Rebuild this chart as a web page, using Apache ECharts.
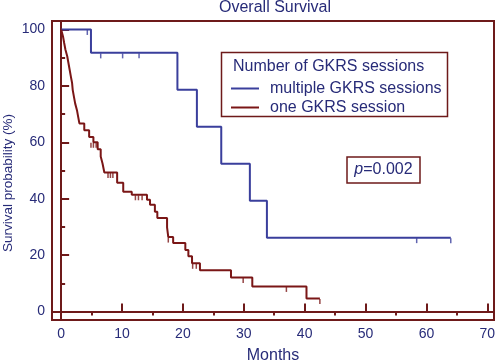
<!DOCTYPE html>
<html>
<head>
<meta charset="utf-8">
<script src="https://cdn.jsdelivr.net/npm/echarts@6/dist/echarts.min.js"></script>
<style>
  html, body { margin: 0; padding: 0; background: #fff; }
  #chart { width: 499px; height: 362px; }
</style>
</head>
<body>
<div id="chart"></div>
<script>
// Kaplan-Meier curves (months, survival %)
var multiTimes = [0, 4.9, 19.1, 22.3, 26.3, 31.0, 33.8, 64.0];
var multiValues = [100, 91.7, 78.6, 65.5, 52.4, 39.3, 26.2, 26.2];
var multiCensorTimes = [4.3, 6.5, 10.1, 12.8, 58.4, 64.0];
var multiCensorValues = [100, 91.7, 91.7, 91.7, 26.2, 26.2];

var oneTimes = [0, 0.3, 0.5, 0.7, 1.0, 1.2, 1.4, 1.6, 1.8, 1.9, 2.1, 2.3, 2.6, 2.8, 3.0,
  3.8, 4.6, 5.3, 6.0, 6.5, 6.8, 7.1, 9.2, 10.2, 11.6, 14.1, 14.6, 15.4, 15.8,
  17.4, 17.6, 18.4, 20.4, 20.9, 21.5, 22.8, 27.9, 31.4, 40.3, 42.5];
var oneValues = [100, 97.6, 95.2, 92.9, 90.5, 88.1, 85.7, 83.3, 81.0, 78.6, 76.2, 73.8, 71.4, 69.0, 66.7,
  64.3, 61.9, 60.0, 57.5, 55.0, 52.5, 49.3, 45.7, 42.5, 41.4, 39.6, 37.9, 35.4, 33.2,
  29.8, 26.4, 24.3, 21.8, 19.6, 17.1, 14.6, 12.1, 8.9, 4.6, 4.6];
var oneCensorTimes = [4.9, 5.3, 5.75, 7.7, 8.1, 8.5, 12.2, 12.7, 13.3, 17.6, 21.6, 22.2, 29.9, 37.0, 42.5];
var oneCensorValues = [60.0, 60.0, 60.0, 49.3, 49.3, 49.3, 41.4, 41.4, 41.4, 26.4, 17.1, 17.1, 12.1, 8.9, 4.6];

var xMajorTicks = [0, 10, 20, 30, 40, 50, 60, 70];
var xMinorTicks = [5, 15, 25, 35, 45, 55, 65];
var yMajorTicks = [0, 20, 40, 60, 80, 100];
var yMinorTicks = [10, 30, 50, 70, 90];

var seriesNames = ['multiple GKRS sessions', 'one GKRS session'];

var frameColor = '#6e1a1a';
var textColor = '#272b78';
var blue = '#3a3f9c';
var red = '#7a1616';
var font = 'Liberation Sans';

function pairs(xs, ys) {
  var out = [];
  for (var i = 0; i < xs.length; i++) {
    out.push([xs[i], ys[i]]);
  }
  return out;
}

var chart = echarts.init(document.getElementById('chart'));

var option = {
  animation: false,
  backgroundColor: '#fff',
  textStyle: { fontFamily: font },
  title: {
    text: 'Overall Survival',
    left: 219,
    top: 0,
    padding: 0,
    textStyle: { color: textColor, fontSize: 16, fontWeight: 'normal', fontFamily: font }
  },
  grid: {
    left: 52, right: 5, top: 21, bottom: 42,
    outerBoundsMode: 'none',
    containLabel: false,
    show: true,
    borderColor: frameColor,
    borderWidth: 2
  },
  legend: {
    data: seriesNames,
    orient: 'vertical',
    left: 231,
    top: 79,
    padding: 0,
    z: 10,
    itemWidth: 28,
    itemHeight: 2,
    itemGap: 0,
    icon: 'rect',
    selectedMode: false,
    textStyle: { color: textColor, fontSize: 16, lineHeight: 19, fontFamily: font, padding: [0, 0, 0, 6] }
  },
  xAxis: [{
    type: 'value',
    min: -1.5,
    max: 71.1,
    name: 'Months',
    nameLocation: 'middle',
    nameGap: 28,
    nameTextStyle: { color: textColor, fontSize: 16, fontFamily: font },
    axisLine: { lineStyle: { color: frameColor, width: 2 } },
    axisTick: { inside: true, length: 8, customValues: xMajorTicks, lineStyle: { color: frameColor, width: 2 } },
    axisLabel: { customValues: xMajorTicks, margin: 7, color: textColor, fontSize: 14, fontFamily: font },
    splitLine: { show: false }
  }, {
    type: 'value',
    min: -1.5,
    max: 71.1,
    axisLine: { show: false },
    axisTick: { inside: true, length: 4, customValues: xMinorTicks, lineStyle: { color: frameColor, width: 2 } },
    axisLabel: { show: false },
    splitLine: { show: false }
  }],
  yAxis: [{
    type: 'value',
    min: -3,
    max: 103,
    name: 'Survival probability (%)',
    nameLocation: 'middle',
    nameGap: 37,
    nameMoveOverlap: false,
    nameRotate: 90,
    nameTextStyle: { color: textColor, fontSize: 13.5, fontFamily: font, padding: [0, 25, 0, 0] },
    axisLine: { show: true, lineStyle: { color: frameColor, width: 2 } },
    axisTick: { show: true, inside: true, length: 8, customValues: yMajorTicks, lineStyle: { color: frameColor, width: 2 } },
    axisLabel: { customValues: yMajorTicks, margin: 7, color: textColor, fontSize: 14, fontFamily: font },
    splitLine: { show: false }
  }, {
    type: 'value',
    position: 'left',
    min: -3,
    max: 103,
    axisLine: { show: false },
    axisTick: { show: true, inside: true, length: 4, customValues: yMinorTicks, lineStyle: { color: frameColor, width: 2 } },
    axisLabel: { show: false },
    splitLine: { show: false }
  }],
  series: [{
    name: seriesNames[0],
    type: 'line',
    step: 'end',
    symbol: 'none',
    color: blue,
    lineStyle: { color: blue, width: 2 },
    data: pairs(multiTimes, multiValues)
  }, {
    name: seriesNames[1],
    type: 'line',
    step: 'end',
    symbol: 'none',
    color: red,
    lineStyle: { color: red, width: 2 },
    data: pairs(oneTimes, oneValues)
  }, {
    name: 'multiple censored',
    type: 'scatter',
    symbol: 'rect',
    symbolSize: [1.5, 5],
    symbolOffset: [0, 3],
    itemStyle: { color: blue },
    data: pairs(multiCensorTimes, multiCensorValues)
  }, {
    name: 'one censored',
    type: 'scatter',
    symbol: 'rect',
    symbolSize: [1.5, 5],
    symbolOffset: [0, 3],
    itemStyle: { color: red },
    data: pairs(oneCensorTimes, oneCensorValues)
  }],
  graphic: [{
    type: 'rect',
    shape: { x: 221.5, y: 52.5, width: 226, height: 64 },
    style: { fill: '#fff', stroke: frameColor, lineWidth: 1.5 },
    z: 5
  }, {
    type: 'text',
    x: 233,
    y: 67,
    style: { text: 'Number of GKRS sessions', fill: textColor, font: '16px "Liberation Sans"', textVerticalAlign: 'middle' },
    z: 6
  }, {
    type: 'rect',
    shape: { x: 347, y: 157, width: 73, height: 26 },
    style: { fill: '#fff', stroke: frameColor, lineWidth: 1.5 },
    z: 5
  }, {
    type: 'text',
    x: 383.5,
    y: 170,
    style: {
      text: '{i|p}=0.002',
      rich: { i: { fontStyle: 'italic', fontSize: 16, fill: textColor, fontFamily: font } },
      fill: textColor,
      font: '16px "Liberation Sans"',
      textAlign: 'center',
      textVerticalAlign: 'middle'
    },
    z: 6
  }]
};

chart.setOption(option);
</script>
</body>
</html>
